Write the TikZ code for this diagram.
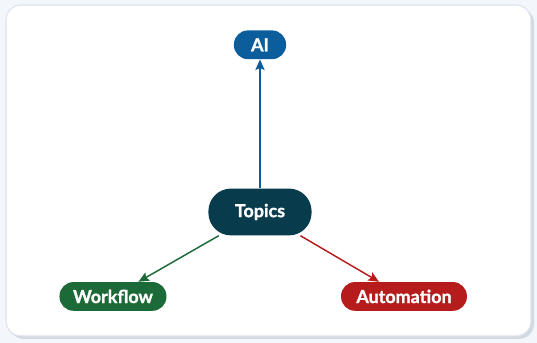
\documentclass[tikz,border=0pt]{standalone}
\usepackage{fontspec}
\setmainfont{Lato}[BoldFeatures={FakeBold=1.2}]
\usetikzlibrary{arrows.meta, positioning}

\definecolor{pagebg}{HTML}{F3F7FB}
\definecolor{cardline}{HTML}{DCE3EC}
\definecolor{cardshadow}{HTML}{D3D9E1}
\definecolor{topicblue}{HTML}{083B4C}
\definecolor{aiblue}{HTML}{0B5D9B}
\definecolor{flowgreen}{HTML}{1B6A37}
\definecolor{autored}{HTML}{B71C1C}

\begin{document}
\begin{tikzpicture}[
    node distance=1.2cm and 1.2cm,
    topic/.style={rectangle, rounded corners=0.6cm, minimum width=2.73cm, minimum height=1.24cm, text centered, fill=topicblue, text=white, font=\fontsize{13.5}{16}\selectfont\bfseries},
    leaf/.style={rectangle, rounded corners=0.37cm, minimum height=0.76cm, inner xsep=0.3cm, text centered, text=white, font=\fontsize{13.5}{16}\selectfont\bfseries},
    arrow/.style={line width=1.1pt, -{Stealth[length=8pt, width=7pt, inset=1.5pt]}}
    ]

    % Page and card
    \fill[pagebg] (-6.879,-3.466) rectangle (7.329,5.609);
    \useasboundingbox (-6.879,-3.466) rectangle (7.329,5.609);
    \fill[cardshadow, rounded corners=0.4cm] (-6.64,-3.36) rectangle (7.25,5.40);
    \draw[cardline, fill=white, line width=0.8pt, rounded corners=0.4cm] (-6.720,-3.281) rectangle (7.170,5.477);

    % Nodes
    \node (topics) [topic] at (0,0) {Topics};
    \node (ai) [leaf, fill=aiblue, minimum width=1.38cm, above=3.41cm of topics] {AI};
    \node (workflow) [leaf, fill=flowgreen, minimum width=2.83cm, below=1.22cm of topics, xshift=-3.89cm] {Workflow};
    \node (automation) [leaf, fill=autored, minimum width=3.33cm, below=1.22cm of topics, xshift=3.81cm] {Automation};

    % Arrows
    \draw [arrow, aiblue] (topics) -- (ai);
    \draw [arrow, flowgreen] (topics) -- (workflow);
    \draw [arrow, autored] (topics) -- (automation);

\end{tikzpicture}
\end{document}
